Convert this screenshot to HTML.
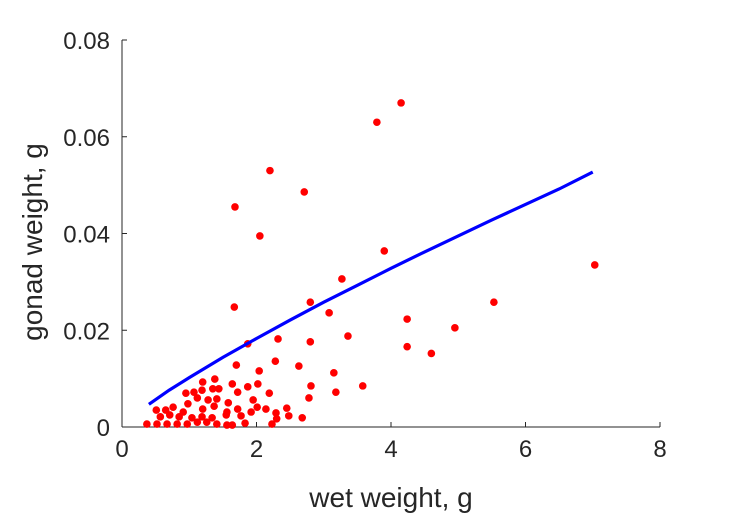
<!DOCTYPE html>
<html><head><meta charset="utf-8"><style>
html,body{margin:0;padding:0;background:#fff;}
svg text{font-family:"Liberation Sans",sans-serif;fill:#262626;}
</style></head><body>
<svg id="chart" width="729" height="521" viewBox="0 0 729 521" xmlns="http://www.w3.org/2000/svg">
<g id="axes"></g>
<g id="marks"></g>
<text x="391" y="507" font-size="28" text-anchor="middle">wet weight, g</text>
<text transform="translate(42,242) rotate(-90)" font-size="28" text-anchor="middle">gonad weight, g</text>
</svg>
<script>
const xTicks=[0,2,4,6,8];
const xTickLabels=["0","2","4","6","8"];
const yTicks=[0,0.02,0.04,0.06,0.08];
const yTickLabels=["0","0.02","0.04","0.06","0.08"];
const wetWeight=[4.15,3.79,2.2,2.71,1.68,2.05,3.9,3.27,7.03,1.67,2.8,5.53,3.08,4.24,4.95,1.87,2.32,2.8,3.36,1.7,2.28,2.63,3.15,2.04,1.2,1.38,1.64,2.02,2.81,3.58,1.72,1.87,2.19,3.18,2.78,0.95,1.07,1.19,1.35,1.44,1.12,1.28,1.41,0.98,1.58,1.95,0.51,0.65,0.76,0.91,1.2,1.37,1.56,1.72,1.92,2.01,2.14,2.45,0.57,0.71,0.85,1.04,1.55,1.77,2.29,2.48,2.68,1.83,2.23,2.3,0.37,0.52,0.67,0.82,0.97,1.12,1.26,1.41,1.56,1.64,1.19,1.34,4.24,4.6];
const gonadWeight=[0.067,0.063,0.053,0.0486,0.0455,0.0395,0.0364,0.0306,0.0335,0.0248,0.0258,0.0258,0.0236,0.0223,0.0205,0.0172,0.0182,0.0176,0.0188,0.0128,0.0136,0.0126,0.0112,0.0116,0.0093,0.0099,0.0089,0.0089,0.0085,0.0085,0.0072,0.0083,0.007,0.0072,0.006,0.007,0.0072,0.0076,0.0079,0.0079,0.006,0.0056,0.0058,0.0048,0.005,0.0056,0.0035,0.0035,0.0041,0.0031,0.0037,0.0043,0.0031,0.0037,0.0031,0.0041,0.0037,0.0039,0.0021,0.0025,0.0021,0.0019,0.0025,0.0023,0.0029,0.0023,0.0019,0.0008,0.0006,0.0017,0.0006,0.0006,0.0006,0.0006,0.0006,0.001,0.001,0.0006,0.0004,0.0004,0.0021,0.0019,0.0166,0.0152];
const fitX=[0.4,0.7,1,1.5,2,2.5,3,3.5,4,4.5,5,5.5,6,6.5,7];
const fitY=[0.0047,0.0076,0.0102,0.0144,0.0183,0.0221,0.0258,0.0293,0.0328,0.0362,0.0395,0.0428,0.046,0.0492,0.0527];
const X0=122,X1=660,Y0=427,Y1=40;
const sx=v=>X0+(v-0)/(8-0)*(X1-X0);
const sy=v=>Y0-(v-0)/(0.08-0)*(Y0-Y1);
const NS="http://www.w3.org/2000/svg";
function mk(tag,attrs,parent){const e=document.createElementNS(NS,tag);for(const k in attrs)e.setAttribute(k,attrs[k]);parent.appendChild(e);return e;}
const axes=document.getElementById('axes');
const xa=mk('line',{x1:X0,y1:Y0,x2:X1,y2:Y0,stroke:'#262626','stroke-width':1},axes);


const ya=mk('line',{x1:X0,y1:Y0,x2:X0,y2:Y1,stroke:'#262626','stroke-width':1},axes);


xTicks.forEach((t,i)=>{const x=sx(t);
 const tk=mk('line',{x1:x,y1:Y0,x2:x,y2:Y0-5,stroke:'#262626'},axes);
 
 
 const tx=mk('text',{x:x,y:Y0+30,'font-size':24,'text-anchor':'middle'},axes);tx.textContent=xTickLabels[i];
 
 });
yTicks.forEach((t,i)=>{const y=sy(t);
 const tk=mk('line',{x1:X0,y1:y,x2:X0+5,y2:y,stroke:'#262626'},axes);
 
 
 const tx=mk('text',{x:X0-12,y:y+9,'font-size':24,'text-anchor':'end'},axes);tx.textContent=yTickLabels[i];
 
 });
const marks=document.getElementById('marks');
wetWeight.forEach((w,i)=>{const c=mk('circle',{cx:sx(w),cy:sy(gonadWeight[i]),r:3.8,fill:'#ff0000'},marks);
 
 });
const p=mk('polyline',{points:fitX.map((x,i)=>sx(x)+','+sy(fitY[i])).join(' '),fill:'none',stroke:'#0000ff','stroke-width':3.2},marks);


</script>
</body></html>
